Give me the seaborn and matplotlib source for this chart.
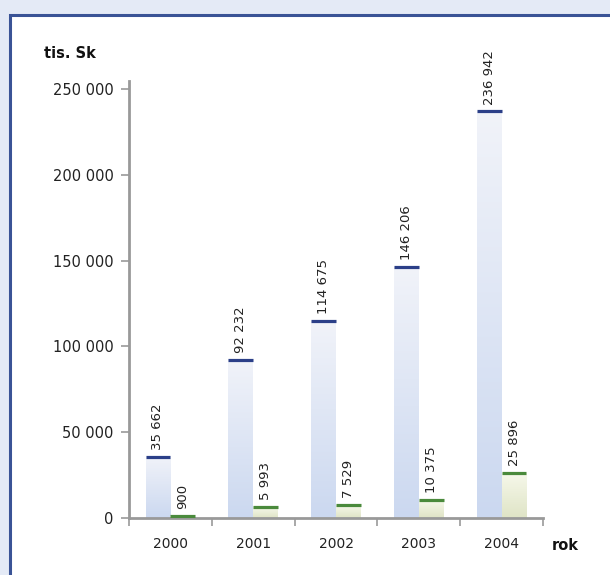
import numpy as np
import pandas as pd
import matplotlib.pyplot as plt
import seaborn as sns
from matplotlib.colors import LinearSegmentedColormap
from matplotlib.patches import Rectangle

years = ["2000", "2001", "2002", "2003", "2004"]
series_a = [35662, 92232, 114675, 146206, 236942]
series_b = [900, 5993, 7529, 10375, 25896]
y_ticks = [0, 50000, 100000, 150000, 200000, 250000]

df = pd.DataFrame({
    "rok": years * 2,
    "hodnota": series_a + series_b,
    "rada": ["A"] * len(years) + ["B"] * len(years),
})

sns.set_style("white")
plt.rcParams["font.family"] = ["DejaVu Sans"]

fig = plt.figure(figsize=(6.1, 5.75), dpi=100, facecolor="#e4eaf6")
# white panel with dark blue frame
fig.patches.append(Rectangle((10 / 610, -0.1), 1.2, 1 - 14.5 / 575 + 0.1,
                             transform=fig.transFigure, facecolor="white",
                             edgecolor="#3a5396", linewidth=2.2, zorder=-5))
ax = fig.add_axes([129 / 610, 1 - 517.7 / 575, (543 - 129) / 610, (517.7 - 81) / 575])
ax.set_facecolor("none")

sns.barplot(data=df, x="rok", y="hodnota", hue="rada", order=years,
            palette=["#cbd8f0", "#e0e5c7"], width=0.6, gap=0,
            legend=False, ax=ax)

grads = [LinearSegmentedColormap.from_list("a", ["#cbd8f0", "#f1f3f9"]),
         LinearSegmentedColormap.from_list("b", ["#dfe4c6", "#f6f8ea"])]
caps = ["#2b3f88", "#4a8a3c"]
grad = np.linspace(0, 1, 256).reshape(-1, 1)

for cont, cmap, capc in zip(ax.containers, grads, caps):
    for bar in cont:
        x, w, h = bar.get_x(), bar.get_width(), bar.get_height()
        ax.imshow(grad, cmap=cmap, extent=[x, x + w, 0, h], origin="lower",
                  aspect="auto", zorder=1)
        bar.set_visible(False)
        ax.hlines(h, x, x + w, color=capc, linewidth=2.3, zorder=3)
        ax.annotate(f"{int(h):,}".replace(",", " "), (x + w / 2, h),
                    xytext=(0, 5), textcoords="offset points",
                    rotation=90, ha="center", va="bottom",
                    fontsize=9.5, color="#222222")

ax.set_xlim(-0.5, 4.5)
ax.set_ylim(0, 254700)
ax.set_yticks(y_ticks)
ax.set_yticklabels([f"{v:,}".replace(",", " ") for v in y_ticks],
                   fontsize=10.5, color="#222222")
ax.set_xticks(np.arange(-0.5, 5, 1), minor=False)
ax.set_xticklabels([])
ax.set_xticks(range(len(years)), minor=True)
ax.set_xticklabels(years, minor=True, fontsize=10, color="#222222")
ax.tick_params(axis="x", which="major", direction="out", length=6,
               width=1.2, color="#999999", bottom=True)
ax.tick_params(axis="x", which="minor", length=0, pad=14)
ax.tick_params(axis="y", direction="out", length=6, width=1.2,
               color="#999999", left=True, pad=5)
ax.set_xlabel("")
ax.set_ylabel("")

for side in ["top", "right"]:
    ax.spines[side].set_visible(False)
for side in ["left", "bottom"]:
    ax.spines[side].set_color("#999999")
    ax.spines[side].set_linewidth(2)

fig.text(44 / 610, 1 - 53 / 575, "tis. Sk", fontsize=10.5, fontweight="bold",
         ha="left", va="center", color="#111111")
fig.text(552 / 610, 1 - 545 / 575, "rok", fontsize=10.5, fontweight="bold",
         ha="left", va="center", color="#111111")

fig.savefig("out.png", dpi=100, facecolor=fig.get_facecolor())
